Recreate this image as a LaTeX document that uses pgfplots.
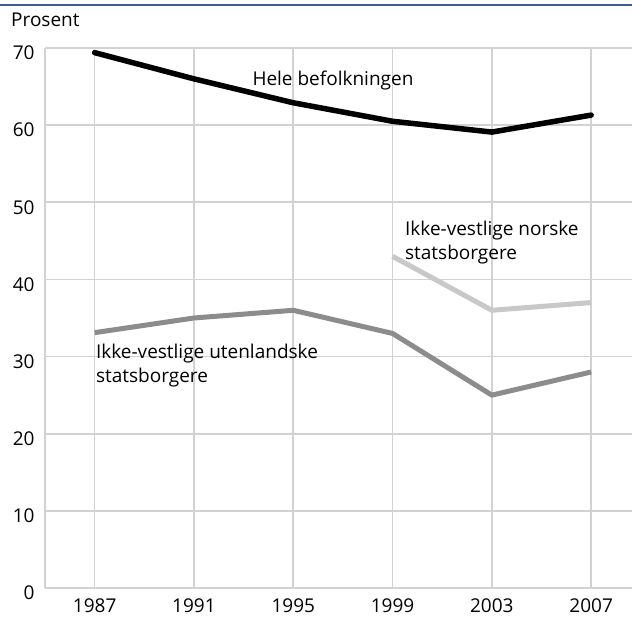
\documentclass[border=0pt]{standalone}
\usepackage{fontspec}
\setmainfont{Open Sans}
\usepackage{pgfplots}
\pgfplotsset{compat=1.18}
\definecolor{gridc}{RGB}{210,210,210}
\definecolor{darkg}{RGB}{140,140,140}
\definecolor{lightg}{RGB}{200,200,200}
\definecolor{topblue}{RGB}{63,90,140}
\begin{document}
\begin{tikzpicture}[x=1bp,y=1bp]
\useasboundingbox (0,0) rectangle (632,618);
\fill[white] (0,0) rectangle (632,618);
\draw[topblue, line width=2.8bp] (0,613) -- (632,613);
\node[anchor=west, inner sep=0pt, font=\fontsize{19bp}{22bp}\selectfont] at (11,598) {Prosent};
\begin{axis}[
  at={(45bp,30bp)}, anchor=south west,
  scale only axis, width=587bp, height=540bp,
  xmin=1985, xmax=2008.646, ymin=0, ymax=70,
  xtick={1987,1991,1995,1999,2003,2007},
  ytick={0,10,20,30,40,50,60,70},
  xticklabel style={/pgf/number format/1000 sep={}, yshift=-7bp},
  yticklabel style={xshift=-7bp, yshift=-5bp},
  /pgf/number format/assume math mode=true,
  tick label style={font=\fontsize{19bp}{22bp}\selectfont},
  major tick length=0pt,
  axis x line*=bottom, axis y line*=left,
  axis line style={gridc, line width=1.6bp, -},
  grid=major, grid style={gridc, line width=1.6bp},
  clip=false,
]
\addplot[black, line width=5.5bp, line join=round, line cap=round] coordinates {
(1987,69.4) (1991,66.0) (1995,62.9) (1999,60.5) (2003,59.1) (2007,61.3)};
\addplot[darkg, line width=5bp, line join=round] coordinates {
(1987,33.1) (1991,35.0) (1995,36.0) (1999,33.0) (2003,25.0) (2007,28.0)};
\addplot[lightg, line width=5bp, line join=round] coordinates {
(1999,43.0) (2003,36.0) (2007,37.0)};
\node[font=\fontsize{19bp}{22bp}\selectfont, inner sep=0pt] at (axis cs:1996.6,65.8) {Hele befolkningen};
\node[font=\fontsize{19bp}{24bp}\selectfont, inner sep=0pt, align=left, anchor=north west] at (axis cs:1999.5,47.6) {Ikke-vestlige norske\\statsborgere};
\node[font=\fontsize{19bp}{24bp}\selectfont, inner sep=0pt, align=left, anchor=north west] at (axis cs:1987.05,31.6) {Ikke-vestlige utenlandske\\statsborgere};
\end{axis}
\end{tikzpicture}
\end{document}
